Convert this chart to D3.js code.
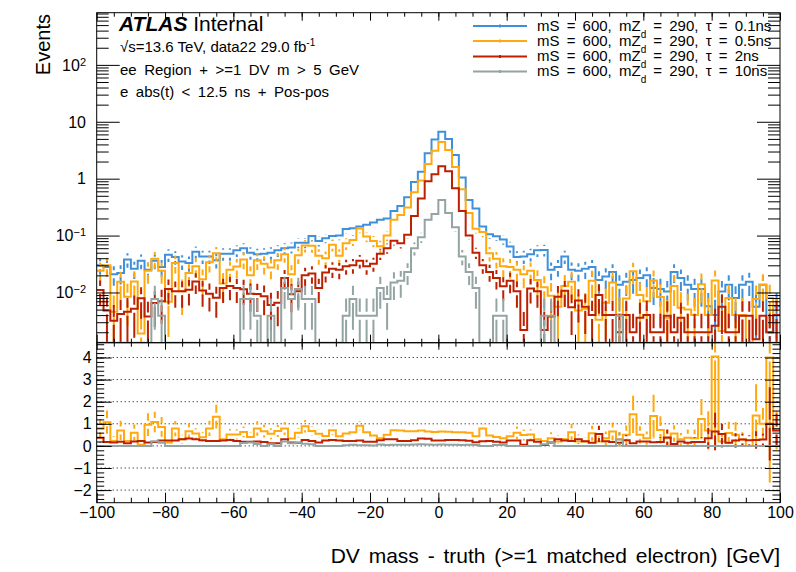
<!DOCTYPE html>
<html>
<head>
<meta charset="utf-8">
<script src="https://cdn.jsdelivr.net/npm/d3@7"></script>
<style>
body { margin: 0; background: #fff; }
svg text { font-family: "Liberation Sans", Arial, Helvetica, sans-serif; }
</style>
</head>
<body>
<svg id="chart" width="796" height="572"></svg>
<script>
// DV mass - truth, 2 GeV bins from -100 to 100
var binEdges = d3.range(-100, 100.001, 2);

// events per bin, mS = 600, mZd = 290
var evtTau01 = [
  0.030, 0.028, 0.021, 0.022, 0.038, 0.026, 0.036, 0.025, 0.036, 0.028,
  0.046, 0.042, 0.035, 0.033, 0.052, 0.043, 0.043, 0.037, 0.048, 0.048,
  0.055, 0.060, 0.050, 0.047, 0.048, 0.050, 0.055, 0.060, 0.062, 0.075,
  0.075, 0.098, 0.080, 0.090, 0.098, 0.100, 0.130, 0.135, 0.145, 0.155,
  0.170, 0.190, 0.200, 0.270, 0.330, 0.470, 0.870, 1.33, 2.8, 4.9,
  6.7, 5.0, 2.6, 1.05, 0.42, 0.30, 0.145, 0.105, 0.097, 0.085,
  0.064, 0.042, 0.043, 0.047, 0.055, 0.056, 0.025, 0.028, 0.043, 0.025,
  0.024, 0.026, 0.028, 0.0166, 0.019, 0.023, 0.0136, 0.0155, 0.0166, 0.018,
  0.020, 0.012, 0.0115, 0.0104, 0.023, 0.018, 0.0136, 0.0115, 0.0115, 0.0057,
  0.004, 0.0104, 0.0136, 0.008, 0.0136, 0.0155, 0.0056, 0.0136, 0.002, 0.0057
];
var evtTau05 = [
  0.024, 0.030, 0.0046, 0.0154, 0.0084, 0.0156, 0.0019, 0.024, 0.039, 0.024,
  0.0069, 0.033, 0.0105, 0.022, 0.029, 0.017, 0.034, 0.049, 0.0144, 0.025,
  0.0286, 0.038, 0.020, 0.037, 0.032, 0.0275, 0.037, 0.047, 0.021, 0.045,
  0.067, 0.066, 0.044, 0.040, 0.069, 0.044, 0.073, 0.084, 0.133, 0.096,
  0.080, 0.065, 0.10, 0.19, 0.23, 0.31, 0.58, 0.93, 1.82, 3.1,
  4.4, 3.2, 1.6, 0.65, 0.25, 0.132, 0.115, 0.049, 0.039, 0.029,
  0.028, 0.025, 0.021, 0.024, 0.0165, 0.0123, 0.0088, 0.0056, 0.013, 0.0155,
  0.0048, 0.0052, 0.016, 0.0033, 0.0066, 0.015, 0.0041, 0.0078, 0.0237, 0.009,
  0.007, 0.0163, 0.0083, 0.0036, 0.013, 0.0054, 0.005, 0.004, 0.014, 0.004,
  0.0162, 0.0021, 0.008, 0.004, 0.004, 0, 0.0077, 0.0136, 0.008, 0.004
];
var evtTau2 = [
  0.011, 0.0048, 0.0032, 0.0042, 0.0046, 0.0052, 0.0079, 0.0038, 0.0065, 0.007,
  0.0115, 0.0105, 0.0105, 0.0112, 0.0156, 0.0108, 0.0095, 0.0081, 0.012, 0.013,
  0.012, 0.0114, 0.0095, 0.0094, 0.0086, 0.006, 0.0066, 0.018, 0.0093, 0.0105,
  0.020, 0.0216, 0.012, 0.0225, 0.026, 0.025, 0.029, 0.030, 0.036, 0.029,
  0.032, 0.048, 0.060, 0.081, 0.073, 0.103, 0.22, 0.45, 0.9, 1.2,
  1.65, 1.35, 0.68, 0.27, 0.1, 0.05, 0.03, 0.023, 0.018, 0.0128,
  0.016, 0.0105, 0.0022, 0.0118, 0.0105, 0.0022, 0.0038, 0.0084, 0.0107, 0.0055,
  0.0072, 0.0056, 0.004, 0.009, 0.004, 0.004, 0.002, 0.004, 0.002, 0.0036,
  0.004, 0.002, 0.002, 0.0039, 0.002, 0.0036, 0.002, 0.002, 0.002, 0.002,
  0.0026, 0.0056, 0.002, 0.002, 0.0039, 0.0039, 0.0015, 0.0039, 0.002, 0.004
];
var evtTau10 = [
  0, 0, 0, 0, 0, 0, 0, 0, 0.0077, 0.0039,
  0, 0, 0, 0, 0, 0, 0, 0, 0, 0,
  0, 0.0077, 0.0077, 0.0039, 0, 0.0039, 0, 0.012, 0.0077, 0.0115,
  0.0077, 0.0077, 0, 0, 0, 0, 0.0039, 0.0077, 0.0039, 0.0039,
  0.0039, 0.012, 0.0077, 0.015, 0.016, 0.023, 0.06, 0.093, 0.19, 0.24,
  0.42, 0.25, 0.14, 0.043, 0.023, 0.012, 0, 0, 0.0039, 0.0039,
  0, 0, 0, 0, 0, 0.0039, 0.0039, 0, 0, 0,
  0, 0, 0, 0, 0, 0, 0.0039, 0, 0, 0,
  0, 0, 0, 0, 0, 0, 0, 0, 0, 0,
  0, 0, 0, 0, 0, 0, 0, 0, 0, 0
];

// mean MC event weight of each sample (error = sqrt(sum w^2))
var eventWeight = [0.003, 0.004, 0.0025, 0.0039];

var seriesVals = [evtTau01, evtTau05, evtTau2, evtTau10];
var tauLabels = ["0.1ns", "0.5ns", "2ns", "10ns"];
var colors = ["#3f90da", "#ffa90e", "#bd1f01", "#94a4a2"];

var xTicks = [-100, -80, -60, -40, -20, 0, 20, 40, 60, 80, 100];
var logTicks = [0.01, 0.1, 1, 10, 100];
var logTickLabels = [["10", "\u22122"], ["10", "\u22121"], ["1", ""], ["10", ""], ["10", "2"]];
var ratioTicks = [-2, -1, 0, 1, 2, 3, 4];

var FONT = '"Liberation Sans", Arial, Helvetica, sans-serif';
var left = 96.7, right = 780, topY = 12.7, mid = 342.7, bottom = 502.7;
var gap = 4;

var svg = d3.select('#chart');

var x = d3.scaleLinear().domain([-100, 100]).range([left, right]);
var yTop = d3.scaleLog().domain([0.00131, 826]).range([mid, topY]);
var yRat = d3.scaleLinear().domain([-2.57, 4.67]).range([bottom, mid]);

// clip regions
var defs = svg.append('defs');
defs.append('clipPath').attr('id', 'clipTop').append('rect')
    .attr('x', left).attr('y', topY).attr('width', right - left).attr('height', mid - topY);
defs.append('clipPath').attr('id', 'clipRat').append('rect')
    .attr('x', left).attr('y', mid).attr('width', right - left).attr('height', bottom - mid);

function yLog(v)
{
    if (v <= 0) return mid;
    return Math.min(yTop(v), mid);
}

function stepPath(vals, ys)
{
    var d = '';
    vals.forEach(function(v, i) {
        var x0 = x(binEdges[i]), x1 = x(binEdges[i + 1]), yy = ys(v);
        d += (i === 0 ? 'M' + x0 + ',' + yy : 'V' + yy) + 'H' + x1;
    });
    return d;
}

// error bar pieces with a gap around the bin centre
function drawErrors(g, vals, errs, ys, yFloor, color)
{
    vals.forEach(function(v, i) {
        var e = errs[i];
        if (!(e > 0)) return;
        var xc = x((binEdges[i] + binEdges[i + 1]) / 2);
        var yc = ys(v);
        var yUp = ys(v + e);
        var yDn = yFloor(v - e);
        if (yc - yUp > gap)
            g.append('line').attr('x1', xc).attr('x2', xc).attr('y1', yc - gap).attr('y2', yUp)
                .attr('stroke', color).attr('stroke-width', 2);
        if (yDn - yc > gap)
            g.append('line').attr('x1', xc).attr('x2', xc).attr('y1', yc + gap).attr('y2', yDn)
                .attr('stroke', color).attr('stroke-width', 2);
    });
}

var errors = seriesVals.map(function(vals, s) {
    return vals.map(function(v) { return Math.sqrt(v * eventWeight[s]); });
});

// upper panel
var gTop = svg.append('g').attr('clip-path', 'url(#clipTop)');
seriesVals.forEach(function(vals, s) {
    var g = gTop.append('g');
    g.append('path').attr('d', stepPath(vals, yLog))
        .attr('fill', 'none').attr('stroke', colors[s]).attr('stroke-width', 2);
    drawErrors(g, vals, errors[s], yLog, function(v) { return v > 0 ? yLog(v) : mid; }, colors[s]);
});

// ratio panel
var gRat = svg.append('g').attr('clip-path', 'url(#clipRat)');
ratioTicks.forEach(function(t) {
    gRat.append('line').attr('x1', left).attr('x2', right).attr('y1', yRat(t)).attr('y2', yRat(t))
        .attr('stroke', '#000').attr('stroke-width', 1).attr('stroke-dasharray', '1,3');
});
for (var s = 1; s < 4; s++)
{
    var ref = evtTau01, refErr = errors[0];
    var r = seriesVals[s].map(function(v, i) { return v / ref[i]; });
    var rErr = seriesVals[s].map(function(v, i) {
        var a = errors[s][i] / ref[i];
        var b = v * refErr[i] / (ref[i] * ref[i]);
        return v > 0 ? Math.sqrt(a * a + b * b) : 0;
    });
    var g = gRat.append('g');
    g.append('path').attr('d', stepPath(r, yRat))
        .attr('fill', 'none').attr('stroke', colors[s]).attr('stroke-width', 2);
    drawErrors(g, r, rErr, yRat, yRat, colors[s]);
}

// frames
svg.append('rect').attr('x', left).attr('y', topY).attr('width', right - left).attr('height', mid - topY)
    .attr('fill', 'none').attr('stroke', '#000').attr('stroke-width', 1);
svg.append('rect').attr('x', left).attr('y', mid).attr('width', right - left).attr('height', bottom - mid)
    .attr('fill', 'none').attr('stroke', '#000').attr('stroke-width', 1);

function tickAxis(axis, tx, ty)
{
    var g = svg.append('g').attr('transform', 'translate(' + tx + ',' + ty + ')').call(axis);
    g.select('.domain').remove();
    g.attr('font-size', 16).attr('font-family', FONT);
    g.selectAll('text').attr('fill', '#000');
    return g;
}

var xMinor = d3.range(-95, 100, 5);
var noLabel = function() { return ''; };

// x ticks: upper panel top and bottom, ratio panel top and bottom
tickAxis(d3.axisTop(x).tickValues(xTicks).tickSize(-8).tickFormat(noLabel), 0, topY);
tickAxis(d3.axisTop(x).tickValues(xMinor).tickSize(-4).tickFormat(noLabel), 0, topY);
tickAxis(d3.axisBottom(x).tickValues(xTicks).tickSize(-8).tickFormat(noLabel), 0, mid);
tickAxis(d3.axisBottom(x).tickValues(xMinor).tickSize(-4).tickFormat(noLabel), 0, mid);
tickAxis(d3.axisTop(x).tickValues(xTicks).tickSize(-7).tickFormat(noLabel), 0, mid);
tickAxis(d3.axisTop(x).tickValues(xMinor).tickSize(-4).tickFormat(noLabel), 0, mid);
tickAxis(d3.axisBottom(x).tickValues(xTicks).tickSize(-10).tickPadding(4)
    .tickFormat(function(d) { return String(d).replace('-', '\u2212'); }), 0, bottom);
tickAxis(d3.axisBottom(x).tickValues(xMinor).tickSize(-5).tickFormat(noLabel), 0, bottom);

// log y ticks
var logMinor = [];
[0.001, 0.01, 0.1, 1, 10, 100].forEach(function(dec) {
    for (var k = 2; k <= 9; k++)
    {
        var v = dec * k;
        if (v > yTop.domain()[0] && v < yTop.domain()[1]) logMinor.push(v);
    }
});
tickAxis(d3.axisLeft(yTop).tickValues(logTicks).tickSize(-23).tickFormat(noLabel), left, 0);
tickAxis(d3.axisLeft(yTop).tickValues(logMinor).tickSize(-12).tickFormat(noLabel), left, 0);
tickAxis(d3.axisRight(yTop).tickValues(logTicks).tickSize(-23).tickFormat(noLabel), right, 0);
tickAxis(d3.axisRight(yTop).tickValues(logMinor).tickSize(-12).tickFormat(noLabel), right, 0);

logTicks.forEach(function(v, i) {
    var t = svg.append('text').attr('x', 86).attr('y', yTop(v)).attr('dy', '0.36em')
        .attr('text-anchor', 'end').attr('font-size', 16).attr('fill', '#000');
    t.append('tspan').text(logTickLabels[i][0]);
    if (logTickLabels[i][1])
        t.append('tspan').attr('dy', '-0.45em').attr('font-size', 11).text(logTickLabels[i][1]);
});

// ratio y ticks
var ratMinor = d3.range(-24, 47, 2).map(function(k) { return k / 10; });
tickAxis(d3.axisLeft(yRat).tickValues(ratioTicks).tickSize(-15).tickPadding(5)
    .tickFormat(function(d) { return String(d).replace('-', '\u2212'); }), left, 0);
tickAxis(d3.axisLeft(yRat).tickValues(ratMinor).tickSize(-7.5).tickFormat(noLabel), left, 0);
tickAxis(d3.axisRight(yRat).tickValues(ratioTicks).tickSize(-15).tickFormat(noLabel), right, 0);
tickAxis(d3.axisRight(yRat).tickValues(ratMinor).tickSize(-7.5).tickFormat(noLabel), right, 0);

// axis titles
svg.append('text').attr('transform', 'translate(50,14) rotate(-90)')
    .attr('text-anchor', 'end').attr('font-size', 20).attr('fill', '#000').text('Events');
svg.append('text').attr('x', 780).attr('y', 563).attr('text-anchor', 'end')
    .attr('font-size', 21).attr('word-spacing', 3).attr('fill', '#000')
    .text('DV mass - truth (>=1 matched electron) [GeV]');

// ATLAS label block
var atl = svg.append('text').attr('x', 119).attr('y', 30.5).attr('font-size', 21).attr('fill', '#000');
atl.append('tspan').attr('font-weight', 'bold').attr('font-style', 'italic').text('ATLAS');
atl.append('tspan').text(' Internal');
var l2 = svg.append('text').attr('x', 120).attr('y', 52).attr('font-size', 15).attr('fill', '#000');
l2.append('tspan').text('\u221As=13.6 TeV, data22 29.0 fb');
l2.append('tspan').attr('dy', -6).attr('font-size', 10).text('-1');
svg.append('text').attr('x', 120).attr('y', 74.5).attr('font-size', 15).attr('word-spacing', 3.3)
    .attr('fill', '#000').text('ee Region + >=1 DV m > 5 GeV');
svg.append('text').attr('x', 120).attr('y', 96.5).attr('font-size', 15).attr('word-spacing', 3.3)
    .attr('fill', '#000').text('e abs(t) < 12.5 ns + Pos-pos');

// legend
var legRows = [26, 41, 56.5, 71.5];
tauLabels.forEach(function(tau, i) {
    var yy = legRows[i];
    svg.append('line').attr('x1', 473).attr('x2', 527).attr('y1', yy).attr('y2', yy)
        .attr('stroke', colors[i]).attr('stroke-width', 2);
    svg.append('line').attr('x1', 500).attr('x2', 500).attr('y1', yy - 1.5).attr('y2', yy + 1.5)
        .attr('stroke', colors[i]).attr('stroke-width', 2);
    var t = svg.append('text').attr('x', 537).attr('y', yy + 4.5).attr('font-size', 15)
        .attr('word-spacing', 3).attr('fill', '#000');
    t.append('tspan').text('mS = 600, mZ');
    t.append('tspan').attr('dy', 7).attr('font-size', 10).text('d');
    t.append('tspan').attr('dy', -7).text(' = 290, \u03C4 = ' + tau);
});
</script>
</body>
</html>
